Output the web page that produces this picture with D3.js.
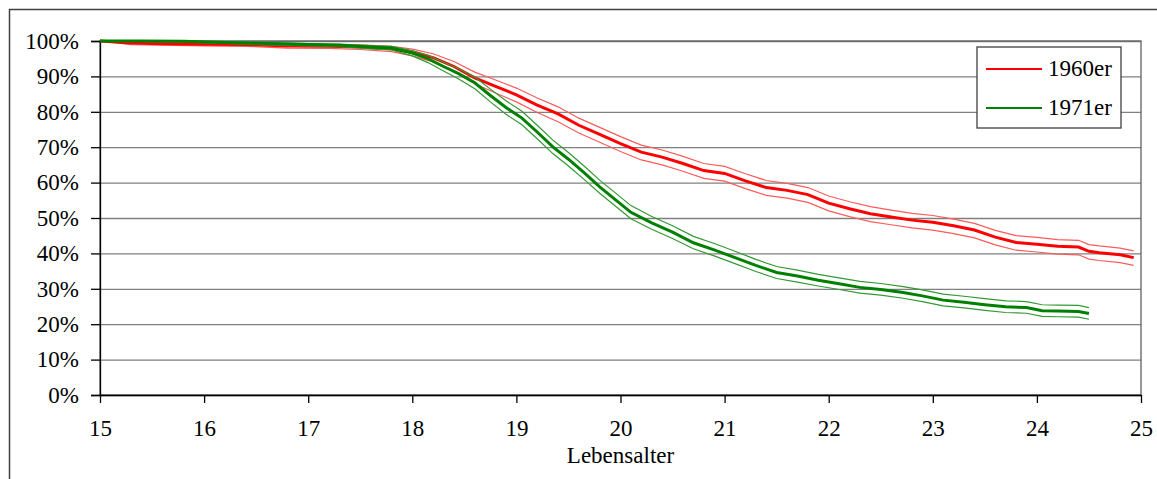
<!DOCTYPE html>
<html>
<head>
<meta charset="utf-8">
<script src="https://cdn.jsdelivr.net/npm/d3@7"></script>
<style>
  body { margin: 0; background: #fff; }
  svg { display: block; font-family: "Liberation Serif", "Times New Roman", serif; }
</style>
</head>
<body>
<main></main>
<script>
// 1960er cohort: age, estimate, upper and lower band (percent)
const ages1960 = [15, 15.3, 15.6, 16, 16.4, 16.8, 17.2, 17.5, 17.8, 18.0,
  18.2, 18.4, 18.6, 18.8, 19.0, 19.2, 19.4, 19.6, 19.8, 20.0,
  20.2, 20.4, 20.6, 20.8, 21.0, 21.2, 21.4, 21.6, 21.8, 22.0,
  22.2, 22.4, 22.6, 22.8, 23.0, 23.2, 23.4, 23.6, 23.8, 24.0,
  24.2, 24.4, 24.5, 24.6, 24.8, 24.93];
const main1960 = [100, 99.4, 99.2, 99.1, 99.0, 98.6, 98.5, 98.3, 97.8, 96.8,
  95.3, 92.8, 89.6, 87.2, 84.8, 81.9, 79.4, 76.2, 73.6, 71.0,
  68.6, 67.2, 65.4, 63.4, 62.6, 60.5, 58.6, 57.8, 56.6, 54.2,
  52.6, 51.2, 50.3, 49.4, 48.8, 47.8, 46.6, 44.6, 43.1, 42.6,
  42.0, 41.8, 40.6, 40.2, 39.6, 38.8];
const upper1960 = [100, 99.7, 99.6, 99.5, 99.4, 99.1, 99.0, 98.9, 98.5, 97.7,
  96.4, 94.2, 91.2, 89.0, 86.7, 83.9, 81.4, 78.2, 75.6, 73.0,
  70.6, 69.2, 67.4, 65.4, 64.6, 62.5, 60.6, 59.8, 58.6, 56.2,
  54.6, 53.2, 52.2, 51.3, 50.7, 49.7, 48.5, 46.5, 45.0, 44.5,
  43.9, 43.7, 42.5, 42.1, 41.5, 40.7];
const lower1960 = [100, 99.0, 98.8, 98.6, 98.5, 98.0, 97.9, 97.6, 97.0, 95.8,
  94.1, 91.3, 87.9, 85.3, 82.8, 79.8, 77.2, 74.0, 71.4, 68.8,
  66.4, 65.0, 63.2, 61.2, 60.4, 58.3, 56.4, 55.6, 54.4, 52.0,
  50.4, 49.0, 48.1, 47.2, 46.6, 45.6, 44.4, 42.4, 40.9, 40.4,
  39.8, 39.6, 38.4, 38.0, 37.4, 36.6];

// 1971er cohort
const ages1971 = [15, 15.4, 15.8, 16.2, 16.6, 17.0, 17.3, 17.6, 17.8, 18.0,
  18.15, 18.3, 18.45, 18.6, 18.75, 18.9, 19.05, 19.2, 19.35, 19.5,
  19.65, 19.8, 19.95, 20.1, 20.3, 20.5, 20.7, 20.9, 21.1, 21.3,
  21.5, 21.7, 21.9, 22.1, 22.3, 22.5, 22.7, 22.9, 23.1, 23.3,
  23.5, 23.7, 23.9, 24.05, 24.2, 24.4, 24.5];
const main1971 = [100, 100, 99.9, 99.6, 99.3, 99.0, 98.8, 98.3, 98.0, 96.6,
  95.0, 92.8, 90.7, 88.2, 84.6, 81.2, 78.3, 74.3, 70.1, 66.6,
  62.8, 58.8, 55.2, 51.6, 48.6, 46.0, 43.0, 41.0, 38.8, 36.6,
  34.6, 33.6, 32.4, 31.4, 30.4, 29.8, 29.0, 28.0, 26.8, 26.2,
  25.5, 24.9, 24.7, 23.8, 23.7, 23.6, 23.0];
const upper1971 = [100, 100, 100, 99.8, 99.6, 99.3, 99.1, 98.7, 98.5, 97.3,
  96.0, 94.0, 92.1, 89.8, 86.4, 83.1, 80.2, 76.2, 72.0, 68.5,
  64.7, 60.7, 57.1, 53.5, 50.4, 47.8, 44.8, 42.8, 40.6, 38.3,
  36.3, 35.3, 34.1, 33.1, 32.1, 31.5, 30.7, 29.7, 28.5, 27.9,
  27.2, 26.6, 26.4, 25.5, 25.4, 25.3, 24.7];
const lower1971 = [100, 99.9, 99.7, 99.3, 98.9, 98.6, 98.4, 97.8, 97.5, 95.8,
  93.9, 91.5, 89.2, 86.5, 82.8, 79.3, 76.4, 72.4, 68.2, 64.7,
  60.9, 57.0, 53.4, 49.8, 46.8, 44.2, 41.3, 39.3, 37.1, 34.9,
  32.9, 31.9, 30.8, 29.8, 28.8, 28.2, 27.4, 26.4, 25.2, 24.6,
  23.9, 23.3, 23.1, 22.2, 22.1, 22.0, 21.4];

const xTicks = [15, 16, 17, 18, 19, 20, 21, 22, 23, 24, 25];
const yTicks = [0, 10, 20, 30, 40, 50, 60, 70, 80, 90, 100];
const seriesNames = ['1960er', '1971er'];
const xTitle = 'Lebensalter';

// dimensions
const width = 1157;
const height = 479;
const plotLeft = 100;
const plotRight = 1141;
const plotTop = 41;
const plotBottom = 395;
const fontSize = 23;
const fontFamily = '"Liberation Serif", "Times New Roman", serif';

const svg = d3.select('main')
  .append('svg')
  .attr('width', width)
  .attr('height', height);

// outer chart frame (runs off the picture on the right and bottom)
svg.append('rect')
  .attr('x', 9.5)
  .attr('y', 9.5)
  .attr('width', width + 20)
  .attr('height', height + 20)
  .attr('fill', 'none')
  .attr('stroke', '#404040')
  .attr('stroke-width', 1.5);

const xScale = d3.scaleLinear().domain([15, 25]).range([plotLeft, plotRight]);
const yScale = d3.scaleLinear().domain([0, 100]).range([plotBottom, plotTop]);

// grid lines
svg.append('g')
  .attr('transform', `translate(${plotLeft}, 0)`)
  .call(d3.axisLeft(yScale).tickValues(yTicks).tickSize(-(plotRight - plotLeft)).tickFormat(''))
  .call(g => g.select('.domain').remove())
  .call(g => g.selectAll('line').attr('stroke', '#808080').attr('stroke-width', 1.3));

// plot border
svg.append('rect')
  .attr('x', plotLeft)
  .attr('y', plotTop)
  .attr('width', plotRight - plotLeft)
  .attr('height', plotBottom - plotTop)
  .attr('fill', 'none')
  .attr('stroke', '#606060')
  .attr('stroke-width', 1.3);

// y axis
const yAxis = svg.append('g')
  .attr('transform', `translate(${plotLeft}, 0)`)
  .call(d3.axisLeft(yScale).tickValues(yTicks).tickSize(9).tickPadding(12).tickFormat(d => d + '%'));
yAxis.attr('font-size', fontSize).attr('font-family', fontFamily);
yAxis.selectAll('text').attr('fill', '#000');
yAxis.selectAll('line, path').attr('stroke', '#000').attr('stroke-width', 1.3);

// x axis
const xAxis = svg.append('g')
  .attr('transform', `translate(0, ${plotBottom})`)
  .call(d3.axisBottom(xScale).tickValues(xTicks).tickSize(8).tickSizeOuter(0).tickPadding(17));
xAxis.attr('font-size', fontSize).attr('font-family', fontFamily);
xAxis.selectAll('text').attr('fill', '#000');
xAxis.selectAll('line, path').attr('stroke', '#000').attr('stroke-width', 1.3);

svg.append('text')
  .text(xTitle)
  .attr('x', xScale(20))
  .attr('y', 463)
  .attr('text-anchor', 'middle')
  .attr('font-size', fontSize);

// curves
const line = d3.line()
  .x(d => xScale(d[0]))
  .y(d => yScale(d[1]));

const curves = [
  { ages: ages1960, main: main1960, upper: upper1960, lower: lower1960, color: '#ff0000', band: '#ff5a5a' },
  { ages: ages1971, main: main1971, upper: upper1971, lower: lower1971, color: '#008000', band: '#339933' }
];

curves.forEach(c => {
  [c.upper, c.lower].forEach(vals => {
    svg.append('path')
      .datum(d3.zip(c.ages, vals))
      .attr('d', line)
      .attr('fill', 'none')
      .attr('stroke', c.band)
      .attr('stroke-width', 1.2);
  });
  svg.append('path')
    .datum(d3.zip(c.ages, c.main))
    .attr('d', line)
    .attr('fill', 'none')
    .attr('stroke', c.color)
    .attr('stroke-width', 3);
});

// legend
const legend = svg.append('g');
legend.append('rect')
  .attr('x', 977)
  .attr('y', 47)
  .attr('width', 144)
  .attr('height', 81)
  .attr('fill', '#fff')
  .attr('stroke', '#404040')
  .attr('stroke-width', 1.3);

seriesNames.forEach((name, i) => {
  const y = 69 + i * 39;
  legend.append('line')
    .attr('x1', 986)
    .attr('x2', 1042)
    .attr('y1', y)
    .attr('y2', y)
    .attr('stroke', curves[i].color)
    .attr('stroke-width', 2);
  legend.append('text')
    .text(name)
    .attr('x', 1048)
    .attr('y', y + 7)
    .attr('font-size', fontSize);
});
</script>
</body>
</html>
